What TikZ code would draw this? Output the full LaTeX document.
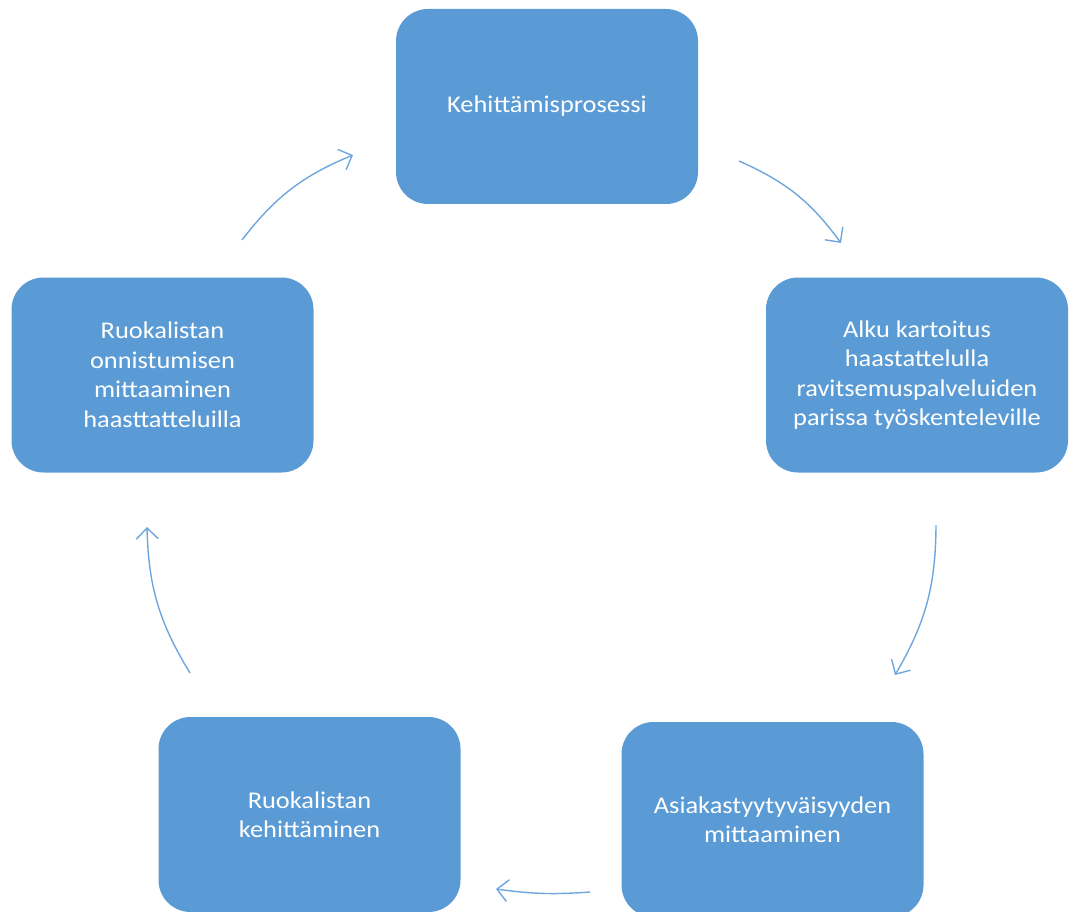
\documentclass[tikz,border=0pt]{standalone}
\usepackage{fontspec}
\setmainfont{Carlito}[FakeStretch=1.1]
\usetikzlibrary{arrows.meta}
\definecolor{boxblue}{HTML}{5B9BD5}
\definecolor{arrowblue}{HTML}{6EA7DD}

\begin{document}
\begin{tikzpicture}[x=1pt, y=-1pt,
  every node/.style={rectangle, rounded corners=32pt, fill=boxblue, text=white,
    minimum width=302pt, minimum height=195pt, inner sep=4pt, align=center,
    font=\fontsize{24}{29.5}\selectfont},
  flow/.style={draw=arrowblue, line width=1.4pt, -{Straight Barb[length=11pt, width=22pt]}}]
\useasboundingbox (0,0) rectangle (1073,912);
\node (K) at (547.0, 106.5) {Kehittämisprosessi};
\node (A) at (917.0, 375.0) {Alku kartoitus\\haastattelulla\\ravitsemuspalveluiden\\parissa työskenteleville};
\node (S) at (772.5, 819.5) {Asiakastyytyväisyyden\\mittaaminen};
\node (R) at (309.5, 814.5) {Ruokalistan\\kehittäminen};
\node (M) at (162.5, 375.0) {Ruokalistan\\onnistumisen\\mittaaminen\\haasttatteluilla};
\coordinate (a1s) at (242, 240); \coordinate (a1e) at (353, 155);
\coordinate (a2s) at (739, 161); \coordinate (a2e) at (841, 243);
\coordinate (a3s) at (936, 525); \coordinate (a3e) at (895, 675);
\coordinate (a4s) at (590, 892); \coordinate (a4e) at (496, 889);
\coordinate (a5s) at (190, 673); \coordinate (a5e) at (147, 527);
\draw[flow] (a1s) to[bend left=15] (a1e);
\draw[flow] (a2s) to[bend left=15] (a2e);
\draw[flow] (a3s) to[bend left=15] (a3e);
\draw[flow] (a4s) to[bend left=6] (a4e);
\draw[flow] (a5s) to[bend left=15] (a5e);
\end{tikzpicture}
\end{document}
